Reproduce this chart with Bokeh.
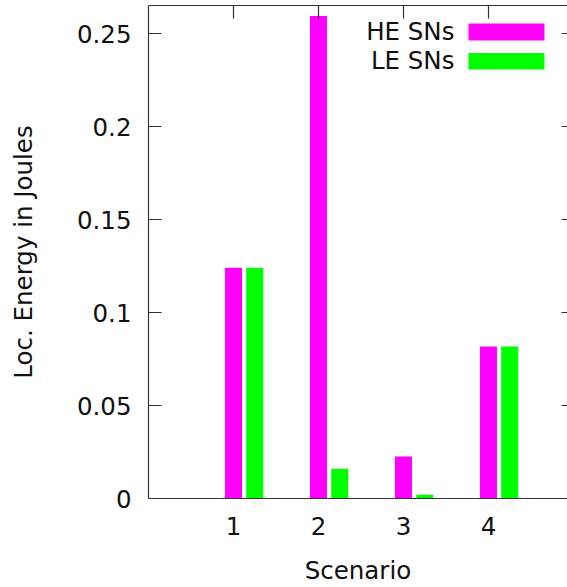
from bokeh.plotting import figure
from bokeh.models import Range1d, LinearAxis, FixedTicker, BoxAnnotation, Label, ColumnDataSource
from bokeh.embed import file_html
from bokeh.resources import INLINE

# ---- data ----
scenarios = [1, 2, 3, 4]
he_values = [0.1241, 0.2595, 0.0226, 0.0818]
le_values = [0.1241, 0.0160, 0.0020, 0.0818]
series_names = ["HE SNs", "LE SNs"]
series_colors = ["#ff00ff", "#00ff00"]
x_ticks = [1, 2, 3, 4]
y_ticks = [0, 0.05, 0.1, 0.15, 0.2, 0.25]
y_tick_labels = ["0", "0.05", "0.1", "0.15", "0.2", "0.25"]
x_label = "Scenario"
y_label = "Loc. Energy in Joules"

FONT = "DejaVu Sans"
FS = "24.5px"
AX = "#333333"

bar_w = 0.2
offset = 0.25

p = figure(width=567, height=587, output_backend="svg", toolbar_location=None,
           x_range=Range1d(0, 4.93), y_range=Range1d(0, 0.2652),
           min_border_left=148, min_border_right=0, min_border_top=5, min_border_bottom=0,
           x_axis_location=None, y_axis_location=None)
p.grid.visible = False
p.outline_line_color = None
p.background_fill_color = "white"
p.border_fill_color = "white"

src = ColumnDataSource(dict(x=scenarios,
                            x2=[s + offset for s in scenarios],
                            he=he_values, le=le_values))
p.vbar(x="x", top="he", width=bar_w, bottom=0, source=src,
       fill_color=series_colors[0], line_color=None)
p.vbar(x="x2", top="le", width=bar_w, bottom=0, source=src,
       fill_color=series_colors[1], line_color=None)

def style_axis(ax, tick_in, labels=True):
    ax.axis_line_color = AX
    ax.axis_line_width = 1.2
    ax.major_tick_line_color = AX
    ax.major_tick_line_width = 1.2
    ax.major_tick_in = tick_in
    ax.major_tick_out = 0
    ax.minor_tick_line_color = None
    if labels:
        ax.major_label_text_font = FONT
        ax.major_label_text_font_size = FS
        ax.major_label_text_color = "#111111"
        ax.axis_label_text_font = FONT
        ax.axis_label_text_font_size = FS
        ax.axis_label_text_font_style = "normal"
        ax.axis_label_text_color = "#111111"
    else:
        ax.major_label_text_font_size = "0px"
        ax.major_label_standoff = 0
        ax.major_label_text_color = None

# left
yl = LinearAxis(ticker=FixedTicker(ticks=y_ticks), axis_label=y_label)
style_axis(yl, 13)
yl.major_label_overrides = {t: s for t, s in zip(y_ticks, y_tick_labels)}
yl.major_label_standoff = 17
yl.axis_label_standoff = 36
p.add_layout(yl, "left")

# bottom
xb = LinearAxis(ticker=FixedTicker(ticks=x_ticks), axis_label=x_label)
style_axis(xb, 0)
xb.major_label_standoff = 18
xb.axis_label_standoff = 18
p.add_layout(xb, "below")

# top (border + mirrored ticks)
xt = LinearAxis(ticker=FixedTicker(ticks=x_ticks))
style_axis(xt, 13, labels=False)
p.add_layout(xt, "above")

# right (mirrored ticks only)
yr = LinearAxis(ticker=FixedTicker(ticks=y_ticks))
style_axis(yr, 6, labels=False)
yr.axis_line_color = None
p.add_layout(yr, "right")

# legend (gnuplot style: text then sample)
leg_text_x = 3.6
leg_box = (3.765, 4.659)
leg_rows = [(0.2512, 0.2555, 0.2464), (0.2354, 0.2396, 0.2308)]
for name, col, (ty, btop, bbot) in zip(series_names, series_colors, leg_rows):
    p.add_layout(Label(x=leg_text_x, y=ty, text=name, text_align="right",
                       text_baseline="middle", text_font=FONT, text_font_size=FS,
                       text_color="#111111"))
    p.add_layout(BoxAnnotation(left=leg_box[0], right=leg_box[1], top=btop, bottom=bbot,
                               fill_color=col, fill_alpha=1.0, line_color=None))

open("out.html", "w").write(file_html(p, INLINE))
